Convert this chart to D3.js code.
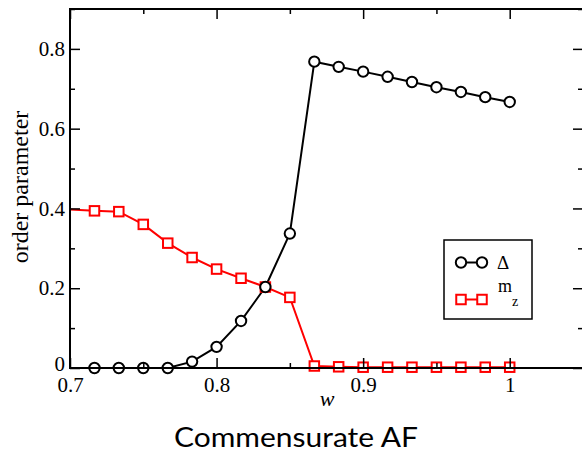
<!DOCTYPE html>
<html>
<head>
<meta charset="utf-8">
<script src="https://cdn.jsdelivr.net/npm/d3@7"></script>
<style>
  html, body { margin: 0; padding: 0; background: #fff; }
  svg { display: block; }
</style>
</head>
<body>
<svg id="chart" width="582" height="454"></svg>
<script>
// ---- data ----
const wValues = [0.7167, 0.7333, 0.75, 0.7667, 0.7833, 0.8, 0.8167, 0.8333, 0.85,
                 0.8667, 0.8833, 0.9, 0.9167, 0.9333, 0.95, 0.9667, 0.9833, 1.0];
const deltaValues = [0, 0, 0, 0, 0.016, 0.053, 0.118, 0.203, 0.337,
                     0.768, 0.755, 0.743, 0.730, 0.717, 0.704, 0.692, 0.679, 0.667];
const mzValues = [0.394, 0.392, 0.360, 0.313, 0.277, 0.248, 0.225, 0.203, 0.177,
                  0.005, 0.003, 0.002, 0.002, 0.002, 0.002, 0.002, 0.002, 0.002];
// m_z line continues in from outside the left edge of the frame
const mzLeadW = [0.6833];
const mzLeadValues = [0.401];

const xMajorTicks = [0.7, 0.8, 0.9, 1.0];
const xMajorLabels = ["0.7", "0.8", "0.9", "1"];
const xMinorTicks = [0.75, 0.85, 0.95, 1.05];
const yMajorTicks = [0, 0.2, 0.4, 0.6, 0.8];
const yMajorLabels = ["0", "0.2", "0.4", "0.6", "0.8"];
const yMinorTicks = [0.1, 0.3, 0.5, 0.7, 0.9];

const seriesNames = ["Δ", "m"];
const xDomain = [0.7, 1.05];
const yDomain = [0, 0.9];

// ---- layout ----
const svg = d3.select("#chart");
const L = 70, R = 583, T = 9, B = 368;
const x = d3.scaleLinear().domain(xDomain).range([L, R]);
const y = d3.scaleLinear().domain(yDomain).range([B, T]);

svg.append("defs").append("clipPath").attr("id", "clip")
  .append("rect").attr("x", L).attr("y", T - 8).attr("width", R - L).attr("height", B - T + 16);

const plot = svg.append("g").attr("clip-path", "url(#clip)");

const line = d3.line().x(d => x(d[0])).y(d => y(d[1]));

const deltaPts = wValues.map((w, i) => [w, deltaValues[i]]);
const mzPts = mzLeadW.map((w, i) => [w, mzLeadValues[i]]).concat(wValues.map((w, i) => [w, mzValues[i]]));
const mzMarkPts = wValues.map((w, i) => [w, mzValues[i]]);

// black Δ series
plot.append("path").datum(deltaPts).attr("d", line)
  .attr("fill", "none").attr("stroke", "#000").attr("stroke-width", 2);
// red m_z series
plot.append("path").datum(mzPts).attr("d", line)
  .attr("fill", "none").attr("stroke", "#ff0000").attr("stroke-width", 2);

const sq = 9.5;
plot.selectAll("rect.mz").data(mzMarkPts).enter().append("rect")
  .attr("class", "mz")
  .attr("x", d => x(d[0]) - sq / 2).attr("y", d => y(d[1]) - sq / 2)
  .attr("width", sq).attr("height", sq)
  .attr("fill", "#fff").attr("stroke", "#ff0000").attr("stroke-width", 2);

plot.selectAll("circle.delta").data(deltaPts).enter().append("circle")
  .attr("class", "delta")
  .attr("cx", d => x(d[0])).attr("cy", d => y(d[1])).attr("r", 5.2)
  .attr("fill", "#fff").attr("stroke", "#000").attr("stroke-width", 2);

// ---- axes ----
const tickFont = "Liberation Serif, Times New Roman, serif";

function styleAxis(g) {
  g.select(".domain").remove();
  g.selectAll(".tick line").attr("stroke", "#000").attr("stroke-width", 1.5);
  g.selectAll(".tick text").attr("fill", "#000").attr("font-family", tickFont).attr("font-size", 21);
}

// bottom
svg.append("g").attr("transform", `translate(0,${B})`)
  .call(d3.axisBottom(x).tickValues(xMajorTicks).tickSize(-10).tickPadding(3)
        .tickFormat((d, i) => xMajorLabels[i]))
  .call(styleAxis)
  .call(g => g.selectAll(".tick text").attr("dy", "0.71em").attr("y", 9));
svg.append("g").attr("transform", `translate(0,${B})`)
  .call(d3.axisBottom(x).tickValues(xMinorTicks).tickSize(-5).tickFormat(""))
  .call(styleAxis);
// top
svg.append("g").attr("transform", `translate(0,${T})`)
  .call(d3.axisTop(x).tickValues(xMajorTicks).tickSize(-10).tickFormat(""))
  .call(styleAxis);
svg.append("g").attr("transform", `translate(0,${T})`)
  .call(d3.axisTop(x).tickValues(xMinorTicks).tickSize(-5).tickFormat(""))
  .call(styleAxis);
// left
svg.append("g").attr("transform", `translate(${L},0)`)
  .call(d3.axisLeft(y).tickValues(yMajorTicks).tickSize(-10).tickPadding(5)
        .tickFormat((d, i) => yMajorLabels[i]))
  .call(styleAxis)
  .call(g => g.selectAll(".tick text").attr("x", -5))
  .call(g => g.selectAll(".tick text").filter((d, i) => i === 0).attr("dy", "0.12em"));
svg.append("g").attr("transform", `translate(${L},0)`)
  .call(d3.axisLeft(y).tickValues(yMinorTicks).tickSize(-5).tickFormat(""))
  .call(styleAxis);
// right
svg.append("g").attr("transform", `translate(${R},0)`)
  .call(d3.axisRight(y).tickValues(yMajorTicks).tickSize(-10).tickFormat(""))
  .call(styleAxis);
svg.append("g").attr("transform", `translate(${R},0)`)
  .call(d3.axisRight(y).tickValues(yMinorTicks).tickSize(-5).tickFormat(""))
  .call(styleAxis);

// frame
svg.append("rect").attr("x", L).attr("y", T).attr("width", R - L).attr("height", B - T)
  .attr("fill", "none").attr("stroke", "#000").attr("stroke-width", 2);

// axis labels
svg.append("text")
  .attr("transform", `translate(28,187) rotate(-90)`)
  .attr("text-anchor", "middle")
  .attr("font-family", tickFont).attr("font-size", 24)
  .text("order parameter");

svg.append("text")
  .attr("x", 327).attr("y", 406)
  .attr("text-anchor", "middle")
  .attr("font-family", tickFont).attr("font-style", "italic").attr("font-size", 22)
  .text("w");

svg.append("text")
  .attr("x", 174).attr("y", 447)
  .attr("textLength", 244).attr("lengthAdjust", "spacingAndGlyphs")
  .attr("font-family", "Lato, sans-serif").attr("font-size", 26)
  .text("Commensurate AF");

// legend
const lg = svg.append("g");
lg.append("rect").attr("x", 444).attr("y", 240).attr("width", 88).attr("height", 79)
  .attr("fill", "#fff").attr("stroke", "#000").attr("stroke-width", 1.5);

const legendRows = [
  { name: seriesNames[0], color: "#000", shape: "circle", cy: 262.5 },
  { name: seriesNames[1], color: "#ff0000", shape: "square", cy: 299.5 }
];
legendRows.forEach(r => {
  lg.append("line").attr("x1", 461).attr("x2", 482).attr("y1", r.cy).attr("y2", r.cy)
    .attr("stroke", r.color).attr("stroke-width", 2);
  [461, 482].forEach(cx => {
    if (r.shape === "circle") {
      lg.append("circle").attr("cx", cx).attr("cy", r.cy).attr("r", 5.2)
        .attr("fill", "#fff").attr("stroke", r.color).attr("stroke-width", 2);
    } else {
      lg.append("rect").attr("x", cx - sq / 2).attr("y", r.cy - sq / 2).attr("width", sq).attr("height", sq)
        .attr("fill", "#fff").attr("stroke", r.color).attr("stroke-width", 2);
    }
  });
});
lg.append("text").attr("x", 497).attr("y", 269)
  .attr("font-family", tickFont).attr("font-size", 19).text(seriesNames[0]);
const mt = lg.append("text").attr("x", 498).attr("y", 292)
  .attr("font-family", tickFont).attr("font-size", 18);
mt.append("tspan").text(seriesNames[1]);
mt.append("tspan").attr("dy", 14).attr("font-size", 14).text("z");
</script>
</body>
</html>
